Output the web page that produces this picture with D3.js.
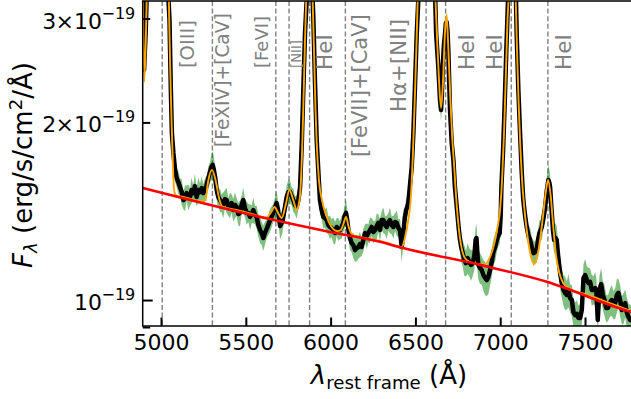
<!DOCTYPE html>
<html><head><meta charset="utf-8">
<script src="https://cdn.jsdelivr.net/npm/d3@7"></script>
<style>
body{margin:0;background:#fff}
svg{display:block}
text{font-family:"DejaVu Sans",sans-serif}
</style>
</head><body>
<svg id="chart" width="631" height="399"></svg>
<script>
// ---------------- DATA ----------------
const fluxUnit = 1e-19;   // all fluxes below in units of 1e-19 erg/s/cm2/A

// observed spectrum: [rest wavelength (A), flux, relative error]
const observed = [
[4893,3.353,.03],[4900,2.454,.04],[4910,2.869,.03],[4918,3.486,.03],[4980,4.075,.03],[5040,3.486,.03],[5044,3.225,.03],[5050,2.983,.03],[5058,2.270,.035],[5064,1.919,.035],[5073,1.775,.04],[5083,1.661,.045],[5092,1.610,.035],[5102,1.585,.045],[5112,1.554,.035],[5122,1.524,.05],[5132,1.477,.035],[5142,1.489,.05],[5151,1.518,.03],[5161,1.495,.05],[5171,1.495,.035],[5180,1.536,.05],[5190,1.518,.03],[5200,1.560,.05],[5210,1.495,.035],[5220,1.536,.05],[5230,1.524,.035],[5240,1.548,.045],[5249,1.518,.035],[5259,1.536,.045],[5269,1.566,.035],[5279,1.610,.045],[5289,1.648,.04],[5297,1.680,.05],[5305,1.694,.055],[5312,1.661,.05],[5319,1.616,.04],[5326,1.554,.035],[5332,1.518,.045],[5340,1.489,.035],[5348,1.477,.045],[5357,1.460,.035],[5367,1.449,.05],[5377,1.483,.035],[5387,1.477,.05],[5397,1.438,.035],[5407,1.449,.05],[5416,1.460,.035],[5426,1.421,.045],[5436,1.449,.05],[5446,1.438,.035],[5456,1.399,.045],[5466,1.405,.05],[5475,1.449,.035],[5485,1.477,.05],[5495,1.432,.035],[5505,1.405,.045],[5515,1.405,.035],[5525,1.383,.05],[5535,1.399,.035],[5544,1.421,.05],[5554,1.394,.035],[5564,1.383,.045],[5574,1.340,.045],[5584,1.314,.05],[5593,1.299,.045],[5603,1.274,.05],[5613,1.299,.045],[5625,1.324,.035],[5643,1.366,.045],[5662,1.405,.035],[5682,1.460,.05],[5690,1.421,.035],[5702,1.335,.05],[5715,1.356,.045],[5728,1.421,.035],[5741,1.495,.045],[5751,1.524,.05],[5761,1.524,.045],[5770,1.501,.035],[5780,1.477,.045],[5790,1.449,.035],[5800,1.438,.045],[5810,1.477,.035],[5820,1.554,.035],[5830,1.845,.03],[5839,2.270,.03],[5849,2.835,.03],[5859,3.225,.03],[5865,3.625,.03],[5877,5.151,.03],[5890,3.625,.03],[5894,3.225,.03],[5898,3.018,.03],[5908,2.332,.03],[5918,1.867,.035],[5928,1.642,.035],[5937,1.477,.045],[5947,1.421,.035],[5957,1.383,.045],[5967,1.377,.035],[5977,1.366,.05],[5986,1.340,.035],[5996,1.330,.045],[6006,1.324,.035],[6016,1.314,.05],[6026,1.299,.045],[6036,1.330,.035],[6045,1.319,.045],[6055,1.314,.035],[6065,1.330,.045],[6075,1.351,.035],[6083,1.388,.045],[6091,1.405,.05],[6098,1.366,.045],[6105,1.314,.035],[6114,1.274,.045],[6124,1.249,.035],[6134,1.239,.05],[6144,1.215,.045],[6154,1.225,.05],[6164,1.230,.045],[6173,1.244,.05],[6183,1.230,.035],[6193,1.264,.045],[6203,1.299,.035],[6213,1.284,.05],[6223,1.299,.035],[6232,1.314,.05],[6242,1.330,.035],[6252,1.304,.045],[6262,1.314,.035],[6272,1.335,.05],[6281,1.351,.035],[6291,1.314,.045],[6301,1.366,.035],[6311,1.366,.05],[6321,1.340,.035],[6331,1.330,.045],[6340,1.356,.035],[6350,1.366,.05],[6360,1.340,.035],[6370,1.330,.045],[6380,1.356,.035],[6390,1.351,.05],[6400,1.324,.035],[6409,1.314,.045],[6415,1.264,.05],[6419,1.230,.06],[6424,1.264,.05],[6429,1.299,.045],[6437,1.377,.035],[6445,1.421,.045],[6452,1.438,.035],[6458,1.460,.035],[6468,1.566,.035],[6478,1.680,.03],[6488,1.919,.03],[6498,2.332,.03],[6508,2.835,.03],[6517,3.225,.03],[6522,3.625,.03],[6565,7.040,.03],[6612,3.625,.03],[6617,3.225,.03],[6622,2.835,.03],[6635,2.483,.03],[6645,2.183,.035],[6651,2.099,.045],[6656,2.226,.035],[6661,2.483,.03],[6668,2.705,.03],[6675,2.835,.03],[6680,2.948,.03],[6684,2.960,.04],[6689,2.869,.03],[6694,2.653,.03],[6704,2.099,.035],[6714,1.845,.04],[6724,1.727,.035],[6733,1.554,.035],[6740,1.477,.04],[6747,1.405,.035],[6755,1.324,.045],[6763,1.264,.05],[6771,1.225,.055],[6779,1.201,.05],[6788,1.169,.06],[6798,1.155,.05],[6808,1.178,.06],[6818,1.160,.055],[6828,1.147,.06],[6838,1.155,.05],[6848,1.192,.055],[6855,1.264,.05],[6860,1.274,.055],[6866,1.192,.06],[6871,1.147,.055],[6881,1.133,.06],[6891,1.124,.055],[6901,1.102,.06],[6911,1.090,.065],[6921,1.081,.06],[6930,1.094,.065],[6940,1.124,.06],[6950,1.160,.055],[6960,1.206,.05],[6970,1.230,.055],[6980,1.264,.045],[6989,1.284,.04],[6997,1.299,.04],[7003,1.394,.035],[7007,1.554,.03],[7017,1.796,.03],[7027,2.183,.03],[7036,2.653,.03],[7046,3.225,.03],[7050,3.625,.03],[7070,7.040,.03],[7088,3.625,.03],[7093,3.225,.03],[7097,2.835,.03],[7107,2.270,.03],[7117,1.919,.035],[7127,1.642,.04],[7136,1.477,.05],[7146,1.394,.04],[7156,1.330,.05],[7166,1.289,.04],[7176,1.264,.05],[7186,1.230,.04],[7196,1.201,.05],[7205,1.206,.04],[7215,1.215,.05],[7223,1.264,.04],[7231,1.299,.05],[7238,1.314,.04],[7245,1.330,.05],[7255,1.377,.04],[7265,1.438,.05],[7275,1.536,.055],[7284,1.598,.06],[7290,1.579,.055],[7294,1.554,.05],[7304,1.405,.05],[7311,1.314,.055],[7318,1.264,.05],[7326,1.274,.06],[7333,1.264,.055],[7341,1.192,.06],[7349,1.137,.055],[7356,1.098,.06],[7363,1.069,.055],[7373,1.040,.06],[7383,1.028,.065],[7393,1.020,.055],[7402,1.040,.065],[7412,1.008,.055],[7422,1.000,.06],[7432,0.954,.055],[7442,0.943,.05],[7452,0.947,.055],[7461,0.932,.05],[7471,0.932,.055],[7481,0.962,.06],[7491,1.090,.055],[7501,1.102,.065],[7511,1.081,.055],[7520,1.069,.06],[7530,1.073,.055],[7540,1.040,.06],[7550,1.040,.055],[7560,1.048,.065],[7567,1.032,.055],[7575,0.925,.05],[7585,1.040,.055],[7595,1.064,.065],[7605,1.020,.055],[7615,1.000,.06],[7625,0.969,.055],[7635,0.969,.05],[7648,0.992,.055],[7658,1.000,.06],[7668,0.981,.055],[7678,0.988,.06],[7688,1.020,.065],[7697,1.028,.055],[7707,1.000,.06],[7717,0.962,.055],[7727,0.969,.06],[7737,0.988,.055],[7746,0.954,.06],[7756,0.936,.055],[7766,0.925,.06],[7776,0.932,.055],[7800,0.943,.055]
];

// best-fit model (continuum + lines): [wavelength, flux]
const model = [
[4893,3.288],[4901,2.342],[4911,2.813],[4919,3.486],[4980,4.075],[5040,3.486],[5046,3.225],[5053,2.551],[5062,2.019],[5071,1.661],[5077,1.536],[5088,1.505],[5130,1.495],[5171,1.485],[5230,1.470],[5262,1.475],[5277,1.585],[5301,1.661],[5324,1.585],[5342,1.489],[5360,1.442],[5450,1.420],[5550,1.395],[5620,1.380],[5650,1.410],[5670,1.438],[5690,1.405],[5712,1.377],[5735,1.449],[5757,1.536],[5780,1.477],[5800,1.421],[5812,1.454],[5820,1.507],[5832,1.796],[5840,2.183],[5849,2.758],[5858,3.353],[5875,4.764],[5894,3.225],[5902,2.653],[5911,2.099],[5920,1.796],[5931,1.598],[5949,1.477],[5973,1.394],[6002,1.335],[6038,1.309],[6060,1.314],[6075,1.345],[6091,1.383],[6105,1.335],[6120,1.299],[6144,1.284],[6200,1.274],[6291,1.259],[6360,1.242],[6400,1.233],[6420,1.230],[6438,1.274],[6456,1.356],[6474,1.507],[6486,1.796],[6498,2.270],[6507,2.758],[6515,3.353],[6560,5.790],[6616,3.353],[6628,2.758],[6639,2.360],[6651,2.116],[6663,2.360],[6675,2.869],[6684,3.042],[6692,2.758],[6704,2.270],[6716,1.904],[6728,1.694],[6739,1.507],[6751,1.366],[6769,1.239],[6792,1.178],[6822,1.160],[6851,1.155],[6881,1.150],[6910,1.150],[6940,1.183],[6963,1.239],[6981,1.314],[6999,1.421],[7011,1.598],[7023,1.942],[7034,2.454],[7043,2.983],[7052,3.353],[7070,5.790],[7090,3.353],[7099,2.653],[7108,2.183],[7117,1.867],[7129,1.598],[7146,1.394],[7164,1.264],[7182,1.183],[7200,1.151],[7217,1.178],[7235,1.264],[7253,1.394],[7268,1.518],[7282,1.598],[7297,1.507],[7312,1.340],[7329,1.192],[7347,1.116],[7371,1.069],[7412,1.043],[7500,1.024],[7650,0.987],[7800,0.951]
];

// continuum fit: [wavelength, flux]
const continuum = [
[4892,1.548],[5613,1.377],[5997,1.304],[6291,1.255],[6421,1.226],[6881,1.147],[7274,1.074],[7771,0.955],[7800,0.950]
];

// emission-line markers (rest wavelength) and their labels
const lineWaves  = [5007, 5303, 5677, 5755, 5876, 6087, 6563, 6678, 7065, 7281];
const lineLabels = ["[OIII]", "[FeXIV]+[CaV]", "[FeVI]", "[NII]", "HeI", "[FeVII]+[CaV]", "Hα+[NII]", "HeI", "HeI", "HeI"];

const xTicks = [5000, 5500, 6000, 6500, 7000, 7500];
const yTickMajor = [1];          // x 1e-19
const yTickMinor = [0.9, 2, 3];  // x 1e-19
const yTickMantissa = {1: null, 2: "2", 3: "3"};  // labels: 10^-19, 2x10^-19, 3x10^-19

// ---------------- LAYOUT (not data) ----------------
// annotation placement in data coordinates (wavelength, flux/1e-19) + font size
const labelLayout = [
  {wave:5197, flux:2.473, size:19.5},
  {wave:5402, flux:1.817, size:18.6},
  {wave:5629, flux:2.473, size:18},
  {wave:5827, flux:2.473, size:14.5, length:28},
  {wave:6008, flux:2.454, size:21.5},
  {wave:6216, flux:1.747, size:21},
  {wave:6446, flux:2.083, size:21.3},
  {wave:6846, flux:2.454, size:21.5},
  {wave:7008, flux:2.454, size:21.5},
  {wave:7417, flux:2.454, size:21.5}
];

const P = {left:142.7, right:635.9, top:1, bottom:326};
const svg = d3.select("#chart");

const x = d3.scaleLinear().domain([4892, 7800]).range([P.left, P.right]);
const y = d3.scaleLog().domain([0.9036*fluxUnit, 3.2124*fluxUnit]).range([P.bottom, P.top]);

svg.append("defs").append("clipPath").attr("id","clip")
  .append("rect").attr("x",P.left).attr("y",P.top)
  .attr("width",P.right-P.left).attr("height",P.bottom-P.top);

const g = svg.append("g").attr("clip-path","url(#clip)");

// dashed line markers
g.selectAll("line.marker").data(lineWaves).enter().append("line")
  .attr("x1",d=>x(d)).attr("x2",d=>x(d))
  .attr("y1",P.top).attr("y2",P.bottom)
  .attr("stroke","#808080").attr("stroke-width",1.4)
  .attr("stroke-dasharray","5,2.6");

// error band
const band = d3.area()
  .x(d=>x(d[0]))
  .y0(d=>y(d[1]*(1-d[2])*fluxUnit))
  .y1(d=>y(d[1]*(1+d[2])*fluxUnit));
g.append("path").datum(observed).attr("d",band)
  .attr("fill","#008000").attr("fill-opacity",0.5).attr("stroke","none");

const line = d3.line().x(d=>x(d[0])).y(d=>y(d[1]*fluxUnit));

g.append("path").datum(observed).attr("d",line)
  .attr("fill","none").attr("stroke","#000").attr("stroke-width",4.5)
  .attr("stroke-linejoin","round").attr("stroke-linecap","round");

g.append("path").datum(model).attr("d",line.curve(d3.curveMonotoneX))
  .attr("fill","none").attr("stroke","#ffa500").attr("stroke-width",1.9)
  .attr("stroke-linejoin","round");

g.append("path").datum(continuum).attr("d",d3.line().x(d=>x(d[0])).y(d=>y(d[1]*fluxUnit)).curve(d3.curveMonotoneX))
  .attr("fill","none").attr("stroke","#ff0000").attr("stroke-width",2.6);

// annotations
lineLabels.forEach((lab,i)=>{
  const L = labelLayout[i];
  const px = x(L.wave), py = y(L.flux*fluxUnit);
  const t = svg.append("text")
    .attr("transform",`translate(${px},${py}) rotate(-90)`)
    .attr("text-anchor","start")
    .attr("fill","#808080")
    .attr("font-size",L.size)
    .text(lab);
  if (L.length) t.attr("textLength",L.length).attr("lengthAdjust","spacingAndGlyphs");
});

// spines
svg.append("rect").attr("x",P.left).attr("y",P.top)
  .attr("width",P.right-P.left).attr("height",P.bottom-P.top)
  .attr("fill","none").attr("stroke","#000").attr("stroke-width",1.5);

// x axis
const xa = svg.append("g").attr("transform",`translate(0,${P.bottom})`)
  .call(d3.axisBottom(x).tickValues(xTicks).tickSize(-8.5).tickFormat(d3.format("d")));
xa.select(".domain").remove();
xa.selectAll(".tick line").attr("stroke","#000").attr("stroke-width",2);
xa.selectAll(".tick text").attr("y",24).attr("dy",null)
  .attr("font-size",22).attr("fill","#000").attr("font-family","DejaVu Sans");

// y axis
const yVals = yTickMajor.concat(yTickMinor).map(v=>v*fluxUnit);
const ya = svg.append("g").attr("transform",`translate(${P.left},0)`)
  .call(d3.axisLeft(y).tickValues(yVals).tickSize(-10).tickFormat(()=>""));
ya.select(".domain").remove();
ya.selectAll(".tick line").attr("stroke","#000").attr("stroke-width",2)
  .attr("x2",d=> yTickMajor.includes(Math.round(d/fluxUnit*10)/10) ? 10 : 7.5);
ya.selectAll(".tick").each(function(d){
  const m = Math.round(d/fluxUnit*10)/10;
  if (!(m in yTickMantissa)) return;
  const tk = d3.select(this);
  const mant = yTickMantissa[m];
  tk.append("text").attr("x",-40.7).attr("y",9.5).attr("text-anchor","end")
    .attr("fill","#000").attr("font-size",22).attr("font-family","DejaVu Sans").text("10");
  if (mant) {
    tk.append("text").attr("x",-78).attr("y",9.5).attr("text-anchor","middle")
      .attr("fill","#000").attr("font-size",22).attr("font-family","DejaVu Sans").text("×");
    tk.append("text").attr("x",-93.5).attr("y",9.5).attr("text-anchor","middle")
      .attr("fill","#000").attr("font-size",22).attr("font-family","DejaVu Sans").text(mant);
  }
  tk.append("text").attr("x",-41.2).attr("y",-0.5).attr("text-anchor","start")
    .attr("fill","#000").attr("font-size",16).attr("font-family","DejaVu Sans")
    .text("−19");
});

// axis titles
const xt = svg.append("text").attr("x",389).attr("y",384)
  .attr("text-anchor","middle").attr("font-size",26).attr("fill","#000");
xt.append("tspan").attr("font-style","italic").text("λ");
xt.append("tspan").attr("font-size",18.2).attr("dy",5).text("rest frame");
xt.append("tspan").attr("dy",-5).text(" (Å)");

const yt = svg.append("text").attr("transform","translate(32,165) rotate(-90)")
  .attr("text-anchor","middle").attr("font-size",26).attr("fill","#000");
yt.append("tspan").attr("font-style","italic").text("F");
yt.append("tspan").attr("font-style","italic").attr("font-size",18.2).attr("dy",5).text("λ");
yt.append("tspan").attr("dy",-5).text(" (erg/s/cm");
yt.append("tspan").attr("font-size",18.2).attr("dy",-10).text("2");
yt.append("tspan").attr("dy",10).text("/Å)");
</script>
</body></html>
